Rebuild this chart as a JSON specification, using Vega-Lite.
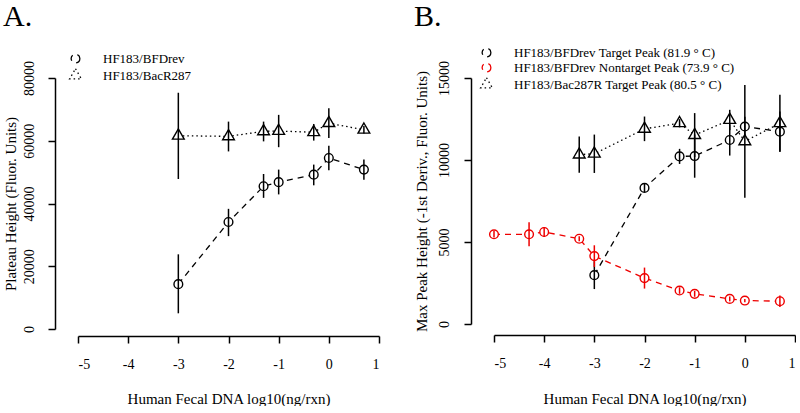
{
  "$schema": "https://vega.github.io/schema/vega-lite/v6.json",
  "padding": {"left": 3, "top": 2, "right": 0, "bottom": 0},
  "background": "white",
  "spacing": 33,
  "resolve": {"scale": {"stroke": "independent", "shape": "independent", "strokeDash": "independent"}, "legend": {"stroke": "independent", "shape": "independent", "strokeDash": "independent"}},
  "config": {
    "font": "Liberation Serif",
    "view": {"stroke": null},
    "axis": {"grid": false, "domainColor": "black", "tickColor": "black", "labelColor": "black", "titleColor": "black", "labelFont": "Liberation Serif", "titleFont": "Liberation Serif", "labelFontSize": 14, "titleFontSize": 15, "titleFontWeight": "normal", "tickSize": 7, "domainWidth": 1.5, "tickWidth": 1.5},
    "title": {"anchor": "start", "frame": "bounds", "font": "Liberation Serif", "fontSize": 30, "fontWeight": "normal", "color": "black", "offset": 14},
    "legend": {"title": null, "labelFont": "Liberation Serif", "labelFontSize": 13, "labelColor": "black", "labelLimit": 400, "symbolSize": 76, "symbolStrokeWidth": 1.3, "symbolFillColor": "white", "symbolDash": [1, 0], "labelOffset": 21, "rowPadding": 0, "symbolOffset": 0}
  },
  "datasets": {
    "A": [
      {"s": "HF183/BFDrev", "x": -3, "y": 14300, "lo": 5000, "hi": 23800},
      {"s": "HF183/BFDrev", "x": -2, "y": 34100, "lo": 29600, "hi": 38300},
      {"s": "HF183/BFDrev", "x": -1.301, "y": 45500, "lo": 41800, "hi": 49400},
      {"s": "HF183/BFDrev", "x": -1, "y": 46800, "lo": 42900, "hi": 50800},
      {"s": "HF183/BFDrev", "x": -0.301, "y": 49200, "lo": 45800, "hi": 52400},
      {"s": "HF183/BFDrev", "x": 0, "y": 54500, "lo": 50600, "hi": 58400},
      {"s": "HF183/BFDrev", "x": 0.699, "y": 50800, "lo": 47600, "hi": 54000},
      {"s": "HF183/BacR287", "x": -3, "y": 61600, "lo": 47800, "hi": 75300},
      {"s": "HF183/BacR287", "x": -2, "y": 61400, "lo": 56600, "hi": 66100},
      {"s": "HF183/BacR287", "x": -1.301, "y": 63000, "lo": 59800, "hi": 66100},
      {"s": "HF183/BacR287", "x": -1, "y": 63100, "lo": 57950, "hi": 68250},
      {"s": "HF183/BacR287", "x": -0.301, "y": 62700, "lo": 60050, "hi": 65350},
      {"s": "HF183/BacR287", "x": 0, "y": 65600, "lo": 60840, "hi": 70360},
      {"s": "HF183/BacR287", "x": 0.699, "y": 63500, "lo": 62300, "hi": 64700}
    ],
    "B": [
      {"s": "HF183/BFDrev Target Peak (81.9 ° C)", "x": -3, "y": 2980, "lo": 2130, "hi": 3830},
      {"s": "HF183/BFDrev Target Peak (81.9 ° C)", "x": -2, "y": 8300, "lo": 8050, "hi": 8550},
      {"s": "HF183/BFDrev Target Peak (81.9 ° C)", "x": -1.301, "y": 10220, "lo": 9760, "hi": 10680},
      {"s": "HF183/BFDrev Target Peak (81.9 ° C)", "x": -1, "y": 10240, "lo": 8920, "hi": 11560},
      {"s": "HF183/BFDrev Target Peak (81.9 ° C)", "x": -0.301, "y": 11220, "lo": 10270, "hi": 12170},
      {"s": "HF183/BFDrev Target Peak (81.9 ° C)", "x": 0, "y": 12040, "lo": 11440, "hi": 12640},
      {"s": "HF183/BFDrev Target Peak (81.9 ° C)", "x": 0.699, "y": 11730, "lo": 10510, "hi": 12950},
      {"s": "HF183/BFDrev Nontarget Peak (73.9 ° C)", "x": -5, "y": 5470, "lo": 5270, "hi": 5670},
      {"s": "HF183/BFDrev Nontarget Peak (73.9 ° C)", "x": -4.301, "y": 5470, "lo": 4735, "hi": 6205},
      {"s": "HF183/BFDrev Nontarget Peak (73.9 ° C)", "x": -4, "y": 5610, "lo": 5310, "hi": 5910},
      {"s": "HF183/BFDrev Nontarget Peak (73.9 ° C)", "x": -3.301, "y": 5200, "lo": 5050, "hi": 5350},
      {"s": "HF183/BFDrev Nontarget Peak (73.9 ° C)", "x": -3, "y": 4140, "lo": 3480, "hi": 4800},
      {"s": "HF183/BFDrev Nontarget Peak (73.9 ° C)", "x": -2, "y": 2800, "lo": 2160, "hi": 3440},
      {"s": "HF183/BFDrev Nontarget Peak (73.9 ° C)", "x": -1.301, "y": 2040, "lo": 1840, "hi": 2240},
      {"s": "HF183/BFDrev Nontarget Peak (73.9 ° C)", "x": -1, "y": 1840, "lo": 1660, "hi": 2020},
      {"s": "HF183/BFDrev Nontarget Peak (73.9 ° C)", "x": -0.301, "y": 1530, "lo": 1380, "hi": 1680},
      {"s": "HF183/BFDrev Nontarget Peak (73.9 ° C)", "x": 0, "y": 1430, "lo": 1330, "hi": 1530},
      {"s": "HF183/BFDrev Nontarget Peak (73.9 ° C)", "x": 0.699, "y": 1390, "lo": 1035, "hi": 1745},
      {"s": "HF183/Bac287R Target Peak (80.5 ° C)", "x": -3.301, "y": 10330, "lo": 9220, "hi": 11440},
      {"s": "HF183/Bac287R Target Peak (80.5 ° C)", "x": -3, "y": 10380, "lo": 9210, "hi": 11550},
      {"s": "HF183/Bac287R Target Peak (80.5 ° C)", "x": -2, "y": 11900, "lo": 11150, "hi": 12650},
      {"s": "HF183/Bac287R Target Peak (80.5 ° C)", "x": -1.301, "y": 12240, "lo": 11990, "hi": 12490},
      {"s": "HF183/Bac287R Target Peak (80.5 ° C)", "x": -1, "y": 11520, "lo": 10180, "hi": 12860},
      {"s": "HF183/Bac287R Target Peak (80.5 ° C)", "x": -0.301, "y": 12440, "lo": 11820, "hi": 13060},
      {"s": "HF183/Bac287R Target Peak (80.5 ° C)", "x": 0, "y": 11140, "lo": 7700, "hi": 14580},
      {"s": "HF183/Bac287R Target Peak (80.5 ° C)", "x": 0.699, "y": 12240, "lo": 10500, "hi": 13980}
    ]
  },
  "hconcat": [
    {
      "width": 301,
      "height": 251,
      "title": {"text": "A."},
      "data": {"name": "A"},
      "layer": [
        {
          "mark": {"type": "line", "strokeWidth": 1.3},
          "encoding": {
            "x": {"field": "x", "type": "quantitative", "scale": {"domain": [-5, 1], "nice": false, "zero": false}, "axis": {"values": [-5, -4, -3, -2, -1, 0, 1], "labelExpr": "'' + datum.value", "title": "Human Fecal DNA log10(ng/rxn)", "offset": 7, "labelPadding": 14, "titlePadding": 20}},
            "y": {"field": "y", "type": "quantitative", "scale": {"domain": [0, 80000], "nice": false, "zero": false}, "axis": {"values": [0, 20000, 40000, 60000, 80000], "labelExpr": "'' + datum.value", "labelAngle": -90, "title": "Plateau Height (Fluor. Units)", "offset": 23, "labelPadding": 12, "titlePadding": 4}},
            "stroke": {"field": "s", "type": "nominal", "scale": {"domain": ["HF183/BFDrev", "HF183/BacR287"], "range": ["black", "black"]}},
            "strokeDash": {"field": "s", "type": "nominal", "scale": {"domain": ["HF183/BFDrev", "HF183/BacR287"], "range": [[6, 5], [1.5, 3]]}, "legend": null},
            "order": {"field": "x", "type": "quantitative"}
          }
        },
        {
          "mark": {"type": "point", "fill": "white", "fillOpacity": 1, "opacity": 1, "strokeWidth": 1.4, "size": 76},
          "encoding": {
            "x": {"field": "x", "type": "quantitative"},
            "y": {"field": "y", "type": "quantitative"},
            "shape": {"field": "s", "type": "nominal", "scale": {"domain": ["HF183/BFDrev", "HF183/BacR287"], "range": ["circle", "M0,-1.555L1.347,0.778L-1.347,0.778Z"]}, "legend": null},
            "stroke": {"field": "s", "type": "nominal", "legend": {"orient": "none", "legendX": -15, "legendY": -32, "padding": 6, "encode": {"symbols": {"fill": {"value": "white"}, "strokeDash": {"value": [1, 0]}, "opacity": {"value": 1}, "shape": {"value": {"expr": "indexof(datum.value, 'Bac') >= 0 ? 'M-2.9,0H-2.6M0,-1.555L1.347,0.778L-1.347,0.778ZM2.3,0H2.6' : 'M-2.8,0H-1.7M-1,0A1,1,0,1,1,1,0A1,1,0,1,1,-1,0M-1,0H1M1.8,0H2.3'"}}}}}}
          }
        },
        {
          "mark": {"type": "rule", "strokeWidth": 1.5},
          "encoding": {
            "x": {"field": "x", "type": "quantitative"},
            "y": {"field": "lo", "type": "quantitative"},
            "y2": {"field": "hi"},
            "stroke": {"field": "s", "type": "nominal"}
          }
        }
      ]
    },
    {
      "width": 301,
      "height": 246,
      "title": {"text": "B."},
      "data": {"name": "B"},
      "layer": [
        {
          "mark": {"type": "line", "strokeWidth": 1.3},
          "encoding": {
            "x": {"field": "x", "type": "quantitative", "scale": {"domain": [-5, 1], "nice": false, "zero": false}, "axis": {"values": [-5, -4, -3, -2, -1, 0, 1], "labelExpr": "'' + datum.value", "title": "Human Fecal DNA log10(ng/rxn)", "offset": 11, "labelPadding": 14, "titlePadding": 21}},
            "y": {"field": "y", "type": "quantitative", "scale": {"domain": [0, 15000], "nice": false, "zero": false}, "axis": {"values": [0, 5000, 10000, 15000], "labelExpr": "'' + datum.value", "labelAngle": -90, "title": "Max Peak Height (-1st Deriv., Fluor. Units)", "offset": 23, "labelPadding": 13, "titlePadding": 8}},
            "stroke": {"field": "s", "type": "nominal", "scale": {"domain": ["HF183/BFDrev Target Peak (81.9 ° C)", "HF183/BFDrev Nontarget Peak (73.9 ° C)", "HF183/Bac287R Target Peak (80.5 ° C)"], "range": ["black", "#ee0000", "black"]}},
            "strokeDash": {"field": "s", "type": "nominal", "scale": {"domain": ["HF183/BFDrev Target Peak (81.9 ° C)", "HF183/BFDrev Nontarget Peak (73.9 ° C)", "HF183/Bac287R Target Peak (80.5 ° C)"], "range": [[6, 5], [6, 5], [1.5, 3]]}, "legend": null},
            "order": {"field": "x", "type": "quantitative"}
          }
        },
        {
          "mark": {"type": "point", "fill": "white", "fillOpacity": 1, "opacity": 1, "strokeWidth": 1.4, "size": 76},
          "encoding": {
            "x": {"field": "x", "type": "quantitative"},
            "y": {"field": "y", "type": "quantitative"},
            "shape": {"field": "s", "type": "nominal", "scale": {"domain": ["HF183/BFDrev Target Peak (81.9 ° C)", "HF183/BFDrev Nontarget Peak (73.9 ° C)", "HF183/Bac287R Target Peak (80.5 ° C)"], "range": ["circle", "circle", "M0,-1.555L1.347,0.778L-1.347,0.778Z"]}, "legend": null},
            "stroke": {"field": "s", "type": "nominal", "legend": {"orient": "none", "legendX": -14, "legendY": -32, "padding": 0, "encode": {"symbols": {"fill": {"value": "white"}, "strokeDash": {"value": [1, 0]}, "opacity": {"value": 1}, "shape": {"value": {"expr": "indexof(datum.value, 'Bac') >= 0 ? 'M-2.9,0H-2.6M0,-1.555L1.347,0.778L-1.347,0.778ZM2.3,0H2.6' : 'M-2.8,0H-1.7M-1,0A1,1,0,1,1,1,0A1,1,0,1,1,-1,0M-1,0H1M1.8,0H2.3'"}}}}}}
          }
        },
        {
          "mark": {"type": "rule", "strokeWidth": 1.5},
          "encoding": {
            "x": {"field": "x", "type": "quantitative"},
            "y": {"field": "lo", "type": "quantitative"},
            "y2": {"field": "hi"},
            "stroke": {"field": "s", "type": "nominal"}
          }
        }
      ]
    }
  ]
}
